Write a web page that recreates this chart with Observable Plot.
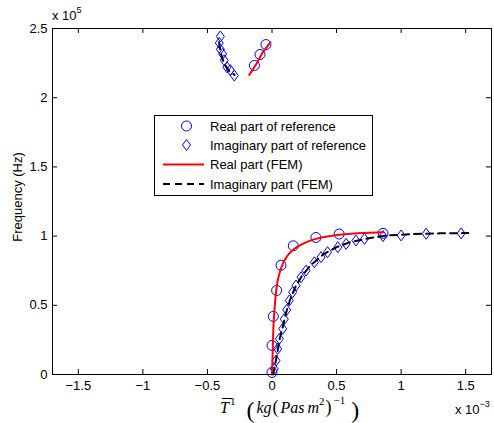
<!DOCTYPE html>
<html><head><meta charset="utf-8">
<script src="https://cdn.jsdelivr.net/npm/d3@7"></script>
<script src="https://cdn.jsdelivr.net/npm/@observablehq/plot@0.6"></script>
<style>body{margin:0;background:#fff}svg{display:block}</style>
</head><body><div id="chart"></div>
<script>
// ---- data (x in 1e-3 kg(Pa s m^2)^-1, y in 1e5 Hz) ----
const realRefX = [0, 0, 0.01, 0.036, 0.07, 0.165, 0.34, 0.52, 0.86, -0.047, -0.093, -0.136];
const realRefY = [0.015, 0.21, 0.42, 0.607, 0.79, 0.93, 0.99, 1.015, 1.02, 2.384, 2.312, 2.233];
const imagRefX = [0.018, 0.031, 0.044, 0.057, 0.083, 0.095, 0.114, 0.134, 0.16, 0.186, 0.225, 0.264, 0.328, 0.38, 0.43, 0.51, 0.574, 0.65, 0.716, 0.86, 1.0, 1.194, 1.465,
                  -0.40, -0.408, -0.40, -0.382, -0.37, -0.349, -0.323, -0.292];
const imagRefY = [0.04, 0.10, 0.185, 0.258, 0.33, 0.40, 0.467, 0.535, 0.595, 0.643, 0.703, 0.751, 0.811, 0.848, 0.884, 0.92, 0.944, 0.968, 0.98, 1.0, 1.005, 1.017, 1.02,
                  2.442, 2.395, 2.35, 2.316, 2.27, 2.22, 2.20, 2.16];
const femRealLowX = [0, 0.005, 0.01, 0.021, 0.036, 0.057, 0.083, 0.121, 0.173, 0.238, 0.341, 0.522, 0.86];
const femRealLowY = [0, 0.15, 0.318, 0.486, 0.631, 0.727, 0.80, 0.86, 0.908, 0.944, 0.98, 1.01, 1.028];
const femRealUpX = [-0.176, -0.12, -0.07, -0.013];
const femRealUpY = [2.165, 2.245, 2.33, 2.40];
const femImagLowX = [0.01, 0.02, 0.04, 0.06, 0.085, 0.11, 0.14, 0.18, 0.23, 0.30, 0.40, 0.50, 0.60, 0.75, 0.90, 1.10, 1.30, 1.52];
const femImagLowY = [0, 0.05, 0.15, 0.26, 0.35, 0.45, 0.54, 0.63, 0.71, 0.79, 0.87, 0.92, 0.955, 0.985, 1.005, 1.015, 1.02, 1.022];
const femImagUpX = [-0.41, -0.40, -0.385, -0.36, -0.33, -0.29];
const femImagUpY = [2.40, 2.34, 2.28, 2.23, 2.19, 2.165];
const xTicks = [-1.5, -1, -0.5, 0, 0.5, 1, 1.5];
const yTicks = [0, 0.5, 1, 1.5, 2, 2.5];
const legendLabels = ["Real part of reference", "Imaginary part of reference", "Real part (FEM)", "Imaginary part (FEM)"];

const zip = (xs, ys) => xs.map((x, i) => ({x, y: ys[i]}));
const realRef = zip(realRefX, realRefY);
const imagRef = zip(imagRefX, imagRefY);

const diamond = {
  draw(ctx, size) {
    const r = Math.sqrt(size / Math.PI);
    const h = r * 1.1, w = r * 0.8;
    ctx.moveTo(0, -h); ctx.lineTo(w, 0); ctx.lineTo(0, h); ctx.lineTo(-w, 0); ctx.closePath();
  }
};

const font = "'Liberation Sans', Arial, Helvetica, sans-serif";
const fmt = d => d3.format("")(d);

const plot = Plot.plot({
  width: 494, height: 423,
  marginLeft: 52, marginRight: 3, marginTop: 28, marginBottom: 49,
  style: {fontFamily: font, fontSize: "13px", color: "black", background: "white"},
  x: {domain: [-1.7, 1.7]},
  y: {domain: [0, 2.5]},
  marks: [
    Plot.gridX(xTicks, {stroke: "black", strokeOpacity: 1, insetTop: 341}),
    Plot.gridX(xTicks, {stroke: "black", strokeOpacity: 1, insetBottom: 341}),
    Plot.gridY(yTicks, {stroke: "black", strokeOpacity: 1, insetRight: 434}),
    Plot.gridY(yTicks, {stroke: "black", strokeOpacity: 1, insetLeft: 434}),
    Plot.axisX({ticks: xTicks, tickSize: 0, tickPadding: 6, tickFormat: fmt, label: null, fontSize: 13}),
    Plot.axisY({ticks: yTicks, tickSize: 0, tickPadding: 5, tickFormat: fmt, label: null, fontSize: 13}),
    Plot.dot(realRef, {x: "x", y: "y", r: 5, stroke: "#0000ff", strokeWidth: 1, fill: "none"}),
    Plot.dot(imagRef, {x: "x", y: "y", r: 5, symbol: diamond, stroke: "#0000ff", strokeWidth: 1, fill: "none"}),
    Plot.line(zip(femRealLowX, femRealLowY), {x: "x", y: "y", stroke: "#ff0000", strokeWidth: 2, curve: "monotone-x"}),
    Plot.line(zip(femRealUpX, femRealUpY), {x: "x", y: "y", stroke: "#ff0000", strokeWidth: 2}),
    Plot.line(zip(femImagLowX, femImagLowY), {x: "x", y: "y", stroke: "black", strokeWidth: 2, strokeDasharray: "7,5"}),
    Plot.line(zip(femImagUpX, femImagUpY), {x: "x", y: "y", stroke: "black", strokeWidth: 2, strokeDasharray: "7,5"}),
    Plot.frame({stroke: "black", strokeWidth: 1})
  ]
});

const svg = d3.select(plot);

// y label
svg.append("text").attr("transform", "translate(21.5,197) rotate(-90)")
  .attr("text-anchor", "middle").attr("font-family", font).attr("font-size", 13).text("Frequency (Hz)");

// exponent labels
const e5 = svg.append("text").attr("x", 52).attr("y", 20).attr("text-anchor", "start").attr("font-family", font).attr("font-size", 13);
e5.append("tspan").text("x 10");
e5.append("tspan").attr("dy", -7).attr("font-size", 9).text("5");
const e3 = svg.append("text").attr("x", 455).attr("y", 414).attr("text-anchor", "start").attr("font-family", font).attr("font-size", 13);
e3.append("tspan").text("x 10");
e3.append("tspan").attr("dy", -7).attr("font-size", 9).text("\u22123");

// x label (math)
const serif = "'Liberation Serif', 'Times New Roman', serif";
const xl = svg.append("text").attr("x", 220).attr("y", 413).attr("text-anchor", "start").attr("font-family", serif).attr("font-size", 16);
xl.append("tspan").attr("font-style", "italic").text("T");
xl.append("tspan").attr("y", 405).attr("dx", 1).attr("font-size", 11).text("1");
xl.append("tspan").attr("y", 418).attr("dx", 11).attr("font-size", 24).text("(");
xl.append("tspan").attr("y", 413).attr("dx", 2).attr("font-style", "italic").text("kg");
xl.append("tspan").attr("y", 413).attr("dx", 1).attr("font-size", 18).text("(");
xl.append("tspan").attr("y", 413).attr("dx", 2).attr("font-style", "italic").text("Pas");
xl.append("tspan").attr("y", 413).attr("dx", 3).attr("font-style", "italic").text("m");
xl.append("tspan").attr("y", 405).attr("font-size", 11).text("2");
xl.append("tspan").attr("y", 413).attr("dx", 1).attr("font-size", 18).text(")");
xl.append("tspan").attr("y", 404).attr("dx", 2).attr("font-size", 11).text("\u22121");
xl.append("tspan").attr("y", 418).attr("dx", 6).attr("font-size", 24).text(")");
svg.append("line").attr("x1", 222).attr("x2", 232).attr("y1", 398.5).attr("y2", 398.5).attr("stroke", "black").attr("stroke-width", 1);

// legend
const lg = svg.append("g").attr("font-family", font).attr("font-size", 13).attr("text-anchor", "start");
lg.append("rect").attr("x", 154.5).attr("y", 115.5).attr("width", 218).attr("height", 80)
  .attr("fill", "white").attr("stroke", "black").attr("stroke-width", 1);
const rows = [126, 145, 164.5, 184];
const sx = 186.5;
lg.append("circle").attr("cx", sx).attr("cy", rows[0]).attr("r", 5).attr("fill", "none").attr("stroke", "#0000ff");
lg.append("path").attr("transform", `translate(${sx},${rows[1]})`).attr("d", d3.symbol(diamond, 25 * Math.PI)())
  .attr("fill", "none").attr("stroke", "#0000ff");
lg.append("line").attr("x1", 163).attr("x2", 204).attr("y1", rows[2]).attr("y2", rows[2]).attr("stroke", "#ff0000").attr("stroke-width", 2);
lg.append("line").attr("x1", 163).attr("x2", 204).attr("y1", rows[3]).attr("y2", rows[3]).attr("stroke", "black").attr("stroke-width", 2).attr("stroke-dasharray", "7,5");
legendLabels.forEach((t, i) => lg.append("text").attr("x", 210).attr("y", rows[i] + 4.5).text(t));

document.getElementById("chart").appendChild(plot);
</script>
</body></html>
